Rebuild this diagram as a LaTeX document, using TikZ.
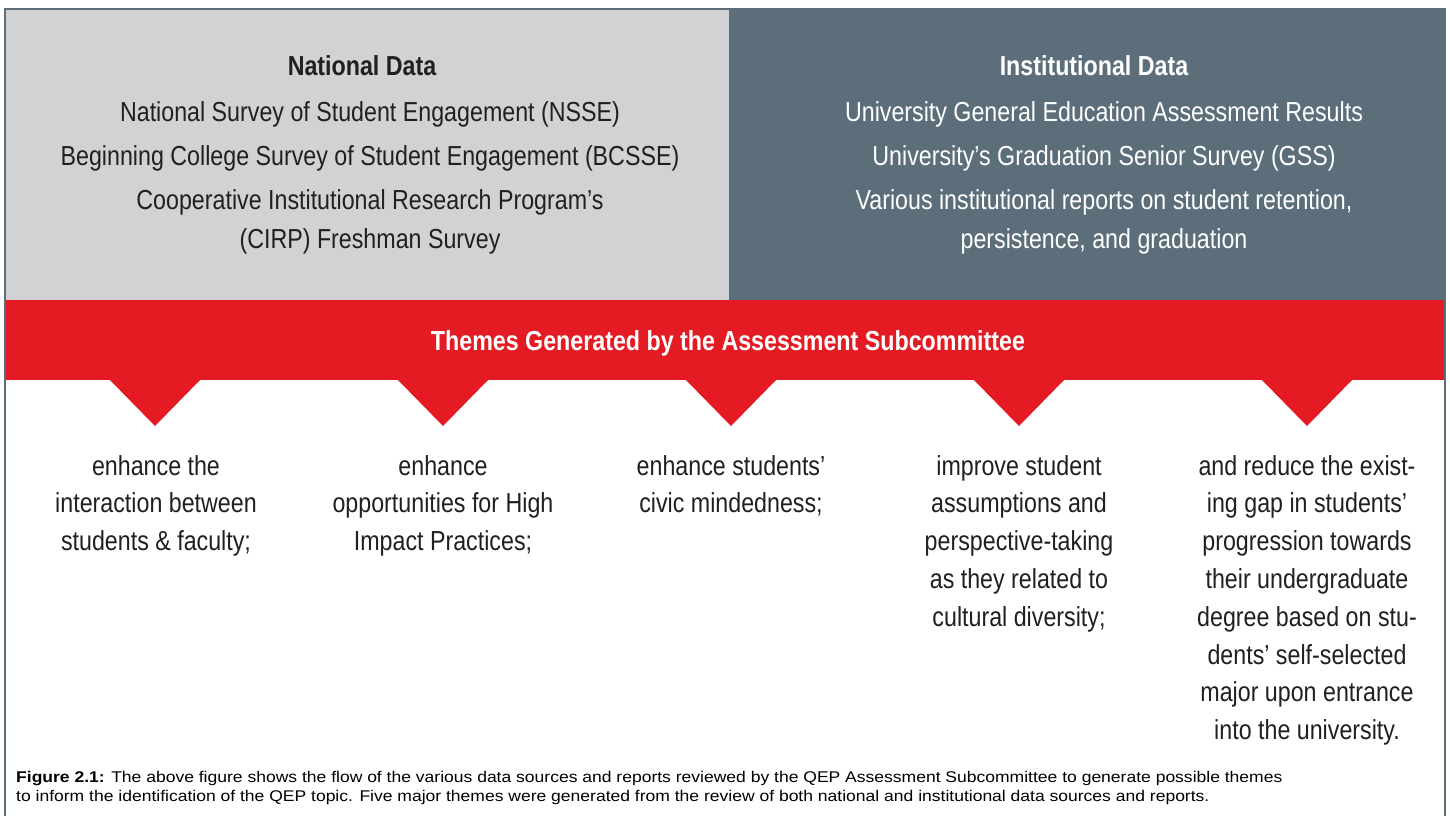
\documentclass[tikz,border=0pt]{standalone}
\usepackage{fontspec}
\setmainfont{Liberation Sans}[FakeStretch=0.845]
\newfontfamily\capfont{Liberation Sans}[FakeStretch=1.13]
\definecolor{panelgray}{HTML}{D1D2D4}
\definecolor{slate}{HTML}{5C6E7A}
\definecolor{themered}{HTML}{E41B23}
\definecolor{ink}{HTML}{231F20}
\newcommand{\mylines}[1]{\begin{tabular}[t]{@{}c@{}}#1\end{tabular}}
\newcommand{\mylinesl}[1]{\begin{tabular}[t]{@{}l@{}}#1\end{tabular}}
\begin{document}
\begin{tikzpicture}[x=1pt,y=-1pt,
  toptxt/.style={inner sep=0pt, anchor=base, font=\fontsize{27.5}{39}\selectfont},
  themetxt/.style={inner sep=0pt, anchor=base, text=ink, font=\fontsize{27.5}{37.8}\selectfont},
  captxt/.style={inner sep=0pt, anchor=base west, text=black, font=\capfont\fontsize{15.5}{19.5}\selectfont},
  pointer/.style={fill=themered}]
\useasboundingbox (0,0) rectangle (1450,815);
\clip (0,0) rectangle (1450,815);
\fill[white] (0,0) rectangle (1450,815);
% panels
\fill[panelgray] (6,10) rectangle (729,300);
\fill[slate] (729,10) rectangle (1444,300);
\fill[themered] (6,300) rectangle (1444,380);
\foreach \cx in {155,443,731,1019,1307}
  \fill[pointer] (\cx-46,379) -- (\cx+46,379) -- (\cx,426) -- cycle;
% frame
\draw[slate, line width=2pt] (5,830) -- (5,9) -- (1445,9) -- (1445,830);
% national data
\node[toptxt, text=ink] (natT) at (362,75) {\bfseries National Data};
\node[toptxt, text=ink] (natL) at (370,121) {\mylines{National Survey of Student Engagement (NSSE)\\[5pt]
  Beginning College Survey of Student Engagement (BCSSE)\\[5pt]
  Cooperative Institutional Research Program’s\\
  (CIRP) Freshman Survey}};
% institutional data
\node[toptxt, text=white] (insT) at (1094,75) {\bfseries Institutional Data};
\node[toptxt, text=white] (insL) at (1104,121) {\mylines{University General Education Assessment Results\\[5pt]
  University’s Graduation Senior Survey (GSS)\\[5pt]
  Various institutional reports on student retention,\\
  persistence, and graduation}};
% themes title
\node[toptxt, text=white] (thT) at (728,350) {\bfseries Themes Generated by the Assessment Subcommittee};
% themes
\node[themetxt] (t1) at (156,475) {\mylines{enhance the\\ interaction between\\ students \& faculty;}};
\node[themetxt] (t2) at (443,475) {\mylines{enhance\\ opportunities for High\\ Impact Practices;}};
\node[themetxt] (t3) at (731,475) {\mylines{enhance students’\\ civic mindedness;}};
\node[themetxt] (t4) at (1019,475) {\mylines{improve student\\ assumptions and\\ perspective-taking\\ as they related to\\ cultural diversity;}};
\node[themetxt] (t5) at (1307,475) {\mylines{and reduce the exist-\\ ing gap in students’\\ progression towards\\ their undergraduate\\ degree based on stu-\\ dents’ self-selected\\ major upon entrance\\ into the university.}};
% caption
\node[captxt] (cap) at (16,782) {\mylinesl{\textbf{Figure 2.1:} The above figure shows the flow of the various data sources and reports reviewed by the QEP Assessment Subcommittee to generate possible themes\\
  to inform the identification of the QEP topic. Five major themes were generated from the review of both national and institutional data sources and reports.}};
\end{tikzpicture}
\end{document}
